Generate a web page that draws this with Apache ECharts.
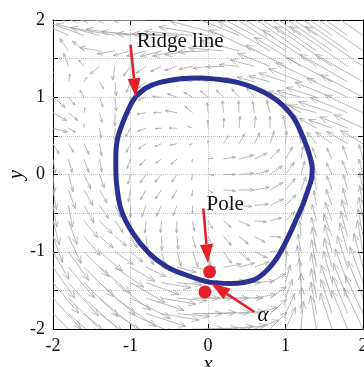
<!DOCTYPE html>
<html>
<head>
<meta charset="utf-8">
<script src="https://cdn.jsdelivr.net/npm/echarts@6/dist/echarts.min.js"></script>
<style>
html, body { margin: 0; padding: 0; background: #fff; }
#main { width: 364px; height: 367px; }
</style>
</head>
<body>
<div id="main"></div>
<script>
/* quiver grid */
var gridX = [-2, -1.8, -1.6, -1.4, -1.2, -1, -0.8, -0.6, -0.4, -0.2, 0, 0.2, 0.4, 0.6, 0.8, 1, 1.2, 1.4, 1.6, 1.8, 2];
var gridY = [2, 1.8, 1.6, 1.4, 1.2, 1, 0.8, 0.6, 0.4, 0.2, 0, -0.2, -0.4, -0.6, -0.8, -1, -1.2, -1.4, -1.6, -1.8, -2];
// direction of each arrow (degrees, 0 = right, 90 = up), one row per gridY
var arrowAngle = [
	[180,175,175,178,180,180,180,180,178,175,170,165,160,155,150,148,147,146,145,145,145],
	[150,155,160,165,170,172,175,178,178,175,170,165,158,152,148,146,145,145,145,145,145],
	[120,125,140,170,190,195,195,195,192,188,182,175,165,155,150,147,145,145,145,145,145],
	[105,110,130,220,260,235,215,205,198,192,188,182,175,165,158,152,148,146,145,145,145],
	[95,80,60,300,275,250,220,195,180,172,168,165,165,165,165,162,158,155,152,150,150],
	[320,310,120,290,275,265,200,175,160,150,140,135,130,130,140,160,165,162,158,155,152],
	[330,320,80,285,270,235,190,180,170,140,95,95,92,100,105,115,150,165,162,158,155],
	[345,330,90,280,270,240,200,185,180,160,92,88,85,85,90,100,115,150,160,158,155],
	[300,300,295,280,270,245,215,205,195,200,90,60,60,65,72,85,100,130,145,150,150],
	[280,285,290,280,270,250,225,215,220,260,10,10,15,25,45,60,80,110,115,110,105],
	[275,285,295,290,275,255,235,230,235,260,350,0,5,15,35,55,75,105,115,110,105],
	[280,290,300,300,285,260,240,235,240,265,330,355,0,10,30,50,70,100,110,105,100],
	[280,280,300,305,295,270,250,245,250,270,310,340,355,5,25,45,70,100,110,105,100],
	[285,290,310,315,305,280,265,265,268,280,300,320,335,355,15,45,80,105,110,105,100],
	[290,295,310,320,320,300,275,272,275,285,295,310,320,330,355,50,95,105,110,105,100],
	[300,305,315,320,325,320,300,285,285,290,280,305,320,335,5,80,100,100,105,105,100],
	[305,310,315,320,325,330,335,340,345,350,0,10,15,20,45,85,100,100,105,108,105],
	[310,312,315,318,322,330,340,350,355,0,10,5,0,5,30,75,95,100,105,110,110],
	[312,315,318,320,325,333,342,350,355,0,0,0,0,10,35,70,90,100,108,112,112],
	[315,318,320,322,328,335,342,350,355,0,2,3,5,15,40,65,88,100,108,112,115],
	[318,320,322,325,330,338,345,352,356,0,2,5,8,20,45,65,85,100,108,112,115]
];
// length of each arrow, roughly in pixels of the plot
var arrowLen = [
	[20,30,35,40,45,50,50,50,52,55,60,65,70,80,90,100,110,115,120,120,120],
	[15,30,40,45,45,45,45,45,45,48,50,55,60,70,80,90,100,105,110,110,110],
	[10,15,15,20,18,18,20,22,25,28,30,35,40,50,60,75,85,90,95,95,95],
	[12,14,8,12,14,12,12,12,13,14,15,17,20,25,35,45,55,65,70,70,70],
	[12,8,5,8,14,12,10,10,10,11,12,13,15,18,22,28,35,45,52,55,55],
	[16,10,8,10,14,12,8,9,10,10,10,10,11,12,14,18,25,32,40,45,48],
	[16,12,5,10,13,10,9,8,12,10,10,12,12,12,13,14,18,28,35,40,42],
	[15,8,4,10,12,10,9,6,8,5,8,10,12,12,12,13,15,20,25,30,32],
	[12,10,12,12,12,10,9,7,7,3,3,9,11,12,13,13,14,15,20,24,26],
	[14,14,14,13,12,10,9,7,8,3,5,12,15,14,14,14,13,12,12,14,15],
	[18,18,16,14,12,10,10,10,9,5,6,12,15,15,15,15,14,13,13,15,16],
	[20,20,18,15,13,12,11,11,10,6,6,12,15,15,15,15,14,14,15,16,18],
	[22,22,20,16,13,12,12,12,11,8,7,10,13,14,15,15,15,15,17,18,20],
	[25,25,22,18,14,12,12,12,12,10,9,10,12,12,12,13,14,17,20,22,24],
	[28,30,25,18,15,13,14,14,13,12,12,12,12,12,11,12,15,20,24,26,28],
	[32,35,35,30,22,16,15,15,15,16,14,14,14,14,12,14,18,25,28,30,32],
	[38,40,42,40,35,28,22,20,20,20,8,18,16,15,14,16,22,28,30,33,35],
	[40,45,48,48,45,40,35,30,25,22,10,22,22,20,18,18,24,30,33,36,38],
	[42,48,52,52,50,45,40,35,30,27,25,25,24,22,20,20,25,30,35,38,40],
	[45,50,55,55,52,48,42,38,33,30,28,27,26,24,22,22,26,32,36,40,42],
	[45,50,55,55,52,50,45,40,35,32,30,30,28,26,24,24,28,34,38,42,45]
];
var lenScale = 1 / 77.5;

/* ridge line (closed) */
var ridgeX = [-0.93,-0.80,-0.63,-0.35,-0.10,0.15,0.39,0.60,0.80,0.97,1.12,1.24,1.31,1.345,1.335,1.29,1.22,1.14,1.04,0.92,0.78,0.60,0.30,0,-0.34,-0.54,-0.76,-0.97,-1.12,-1.18,-1.19,-1.17,-1.10,-1.01,-0.93];
var ridgeY = [1.01,1.12,1.19,1.24,1.25,1.23,1.19,1.12,1.02,0.89,0.71,0.45,0.25,0.08,-0.06,-0.20,-0.40,-0.58,-0.80,-1.03,-1.22,-1.36,-1.41,-1.39,-1.28,-1.19,-1.02,-0.76,-0.46,-0.12,0.19,0.45,0.67,0.88,1.01];

/* pole and alpha points */
var dotX = [0.02, -0.04];
var dotY = [-1.26, -1.52];

/* annotations: arrow from -> to, and labels */
var noteArrows = [
	[-1.0, 1.68, -0.93, 1.0],
	[-0.06, -0.44, 0.0, -1.15],
	[0.60, -1.78, 0.04, -1.41]
];
var noteLabels = [
	[-0.92, 1.72, 'Ridge line', 'normal', 'left'],
	[-0.02, -0.39, 'Pole', 'normal', 'left'],
	[0.64, -1.82, 'α', 'italic', 'left']
];

var arrowData = [];
for (var j = 0; j < gridY.length; j++) {
	for (var i = 0; i < gridX.length; i++) {
		var a = arrowAngle[j][i] * Math.PI / 180;
		var l = arrowLen[j][i] * lenScale;
		arrowData.push([gridX[i], gridY[j], l * Math.cos(a), l * Math.sin(a)]);
	}
}
var ridgeData = ridgeX.map(function(x, k) { return [x, ridgeY[k]]; });
var dotData = dotX.map(function(x, k) { return [x, dotY[k]]; });

var serif = 'Liberation Serif';
var red = '#E5202A';

function renderQuiver(params, api) {
	var p0 = api.coord([api.value(0), api.value(1)]);
	var p1 = api.coord([api.value(0) + api.value(2), api.value(1) + api.value(3)]);
	var dx = p1[0] - p0[0], dy = p1[1] - p0[1];
	var len = Math.sqrt(dx * dx + dy * dy);
	if (len < 0.5) return null;
	var ang = Math.atan2(dy, dx);
	var h = Math.min(len * 0.3, 8);
	var s = 0.38;
	var style = { stroke: '#A6A6A6', lineWidth: 0.8, fill: null };
	return {
		type: 'group',
		children: [
			{ type: 'line', shape: { x1: p0[0], y1: p0[1], x2: p1[0], y2: p1[1] }, style: style },
			{ type: 'polyline', shape: { points: [
				[p1[0] - h * Math.cos(ang - s), p1[1] - h * Math.sin(ang - s)],
				[p1[0], p1[1]],
				[p1[0] - h * Math.cos(ang + s), p1[1] - h * Math.sin(ang + s)]
			] }, style: style }
		]
	};
}

function renderNoteArrow(params, api) {
	var p0 = api.coord([api.value(0), api.value(1)]);
	var p1 = api.coord([api.value(2), api.value(3)]);
	var ang = Math.atan2(p1[1] - p0[1], p1[0] - p0[0]);
	var h = 19, w = 6.5;
	var bx = p1[0] - h * Math.cos(ang), by = p1[1] - h * Math.sin(ang);
	var nx = -Math.sin(ang), ny = Math.cos(ang);
	return {
		type: 'group',
		children: [
			{ type: 'line', shape: { x1: p0[0], y1: p0[1], x2: bx, y2: by }, style: { stroke: red, lineWidth: 2.6 } },
			{ type: 'polygon', shape: { points: [[p1[0], p1[1]], [bx + nx * w, by + ny * w], [bx - nx * w, by - ny * w]] }, style: { fill: red } }
		]
	};
}

function renderLabel(params, api) {
	var p = api.coord([api.value(0), api.value(1)]);
	var d = noteLabels[params.dataIndex];
	return {
		type: 'text',
		x: p[0], y: p[1],
		style: {
			text: d[2], fill: '#111',
			font: d[3] + ' 21px "' + serif + '"',
			align: d[4], verticalAlign: 'middle'
		}
	};
}

var axisBase = {
	type: 'value', min: -2, max: 2,
	axisLine: { show: true, onZero: false, lineStyle: { color: '#000', width: 1 } },
	axisTick: { show: true, inside: true, length: 5, lineStyle: { color: '#000' } }
};

var option = {
	animation: false,
	backgroundColor: '#fff',
	grid: { left: 53, right: 1, top: 20, bottom: 38, containLabel: false, outerBoundsMode: 'none' },
	xAxis: [
		echarts.util.merge({
			position: 'bottom', interval: 1,
			name: 'x', nameLocation: 'middle', nameGap: 25, nameMoveOverlap: false,
			nameTextStyle: { fontFamily: serif, fontStyle: 'italic', fontSize: 21, color: '#111' },
			axisLabel: { fontFamily: serif, fontSize: 18, color: '#111', margin: 8,
				formatter: function(v) { return v < 0 ? '-' + (-v) : '' + v; } },
			splitLine: { show: true, lineStyle: { color: '#C4C4C4', type: 'dotted', width: 1 } }
		}, axisBase, true),
		echarts.util.merge({
			position: 'top', interval: 1,
			axisLabel: { show: false }, splitLine: { show: false }
		}, axisBase, true)
	],
	yAxis: [
		echarts.util.merge({
			position: 'left', interval: 0.5,
			name: 'y', nameLocation: 'middle', nameGap: 26, nameMoveOverlap: false,
			nameTextStyle: { fontFamily: serif, fontStyle: 'italic', fontSize: 21, color: '#111' },
			axisLabel: { fontFamily: serif, fontSize: 18, color: '#111', margin: 8,
				formatter: function(v) {
					if (Math.abs(v - Math.round(v)) > 1e-6) return '';
					return v < 0 ? '-' + (-v) : '' + v;
				} },
			splitLine: { show: true, lineStyle: { color: '#C4C4C4', type: 'dotted', width: 1 } }
		}, axisBase, true),
		echarts.util.merge({
			position: 'right', interval: 0.5,
			axisLabel: { show: false }, splitLine: { show: false }
		}, axisBase, true)
	],
	series: [
		{
			type: 'custom', name: 'field', clip: true,
			renderItem: renderQuiver, data: arrowData, silent: true, z: 1
		},
		{
			type: 'line', name: 'ridge', data: ridgeData, smooth: 0.3,
			symbol: 'none', clip: true, z: 3,
			lineStyle: { color: '#2B3190', width: 5 }
		},
		{
			type: 'scatter', name: 'points', data: dotData, symbolSize: 13,
			itemStyle: { color: red, opacity: 1 }, z: 5
		},
		{
			type: 'custom', name: 'notes', renderItem: renderNoteArrow,
			data: noteArrows, z: 6, clip: false
		},
		{
			type: 'custom', name: 'labels', renderItem: renderLabel,
			data: noteLabels.map(function(d) { return [d[0], d[1]]; }), z: 7, clip: false
		}
	]
};

var chart = echarts.init(document.getElementById('main'));
chart.setOption(option);
</script>
</body>
</html>
